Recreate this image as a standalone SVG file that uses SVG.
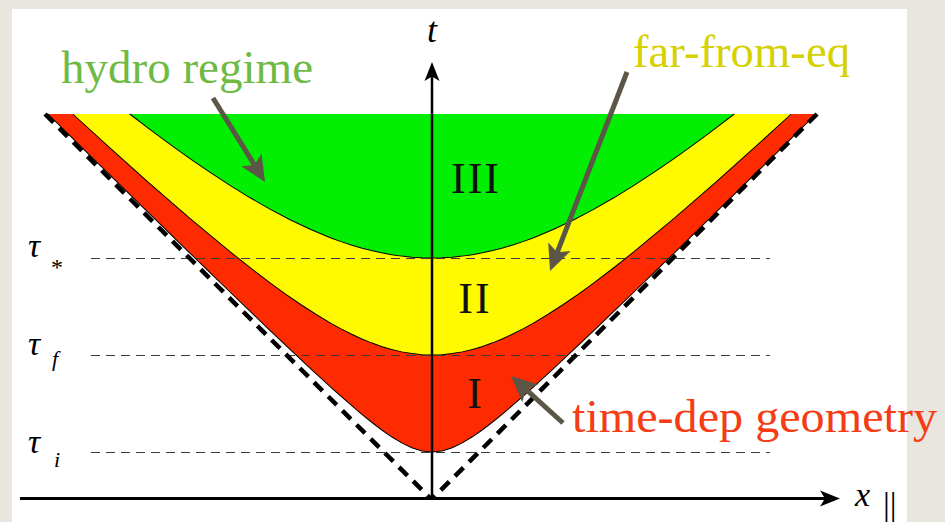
<svg xmlns="http://www.w3.org/2000/svg" xmlns:xlink="http://www.w3.org/1999/xlink" width="945" height="522" viewBox="0 0 945 522">
<style>
.lab{font-family:"Liberation Serif","DejaVu Serif",serif;font-size:46px}
.math{font-family:"Liberation Serif","DejaVu Serif",serif;font-style:italic;fill:#000}
.rom{font-family:"Liberation Serif","DejaVu Serif",serif;font-size:44px;fill:#111;text-anchor:middle}
.hyp{stroke:#000;stroke-width:1;stroke-linejoin:round}
.hdash{fill:none;stroke:#3a3a3a;stroke-width:1.2;stroke-dasharray:9 6}
.cone{fill:none;stroke:#000;stroke-width:4.5;stroke-dasharray:12 8}
.ptr{fill:none;stroke:#5b5646;stroke-width:5;marker-end:url(#ah)}
</style>
<defs>
<marker id="ah" markerUnits="userSpaceOnUse" viewBox="-30 -14 32 28" markerWidth="32" markerHeight="28" refX="-16" refY="0" orient="auto">
<path d="M0,0 L-26,-12 L-20,0 L-26,12 Z" fill="#5b5646"/>
</marker>
</defs>
<rect width="945" height="522" fill="#e8e6de"/>
<rect x="12" y="9" width="895" height="513" fill="#ffffff"/>

<g id="regions" transform="translate(432,497) scale(1.01,1)">
<path id="region-I" class="hyp" fill="#ff2b00" d="M-380.3,-383 L-360,-362.8 L-340,-342.97 L-320,-323.15 L-300,-303.36 L-280,-283.59 L-260,-263.87 L-240,-244.18 L-220,-224.56 L-200,-205 L-180,-185.54 L-160,-166.21 L-140,-147.05 L-120,-128.16 L-100,-109.66 L-90,-100.62 L-80,-91.79 L-70,-83.22 L-60,-75 L-50,-67.27 L-40,-60.21 L-30,-54.08 L-20,-49.24 L-10,-46.1 L0,-45 L10,-46.1 L20,-49.24 L30,-54.08 L40,-60.21 L50,-67.27 L60,-75 L70,-83.22 L80,-91.79 L90,-100.62 L100,-109.66 L120,-128.16 L140,-147.05 L160,-166.21 L180,-185.54 L200,-205 L220,-224.56 L240,-244.18 L260,-263.87 L280,-283.59 L300,-303.36 L320,-323.15 L340,-342.97 L360,-362.8 L380.3,-383"/>
<path id="region-II" class="hyp" fill="#fffa00" d="M-355.7,-383 L-320,-350.09 L-280,-313.95 L-240,-278.86 L-200,-245.28 L-180,-229.27 L-160,-213.93 L-145,-202.95 L-130,-192.52 L-115,-182.73 L-100,-173.68 L-90,-168.12 L-80,-162.98 L-70,-158.32 L-60,-154.16 L-50,-150.55 L-40,-147.53 L-30,-145.13 L-20,-143.4 L-10,-142.35 L0,-142 L10,-142.35 L20,-143.4 L30,-145.13 L40,-147.53 L50,-150.55 L60,-154.16 L70,-158.32 L80,-162.98 L90,-168.12 L100,-173.68 L115,-182.73 L130,-192.52 L145,-202.95 L160,-213.93 L180,-229.27 L200,-245.28 L240,-278.86 L280,-313.95 L320,-350.09 L355.7,-383"/>
<path id="region-III" class="hyp" fill="#02ee02" d="M-299.3,-383 L-280,-368.13 L-260,-353.16 L-240,-338.71 L-220,-324.84 L-200,-311.64 L-180,-299.2 L-160,-287.61 L-140,-276.98 L-120,-267.44 L-100,-259.08 L-90,-255.38 L-80,-252.03 L-70,-249.04 L-60,-246.42 L-50,-244.17 L-40,-242.32 L-30,-240.88 L-20,-239.84 L-10,-239.21 L0,-239 L10,-239.21 L20,-239.84 L30,-240.88 L40,-242.32 L50,-244.17 L60,-246.42 L70,-249.04 L80,-252.03 L90,-255.38 L100,-259.08 L120,-267.44 L140,-276.98 L160,-287.61 L180,-299.2 L200,-311.64 L220,-324.84 L240,-338.71 L260,-353.16 L280,-368.13 L299.3,-383"/>
</g>

<g id="levels">
<line class="hdash" x1="91" y1="258.5" x2="770" y2="258.5"/>
<line class="hdash" x1="91" y1="355.5" x2="770" y2="355.5"/>
<line class="hdash" x1="91" y1="452.5" x2="770" y2="452.5"/>
</g>

<g id="lightcone">
<line class="cone" x1="45" y1="114" x2="430" y2="498"/>
<line class="cone" x1="817" y1="114" x2="433" y2="498"/>
</g>

<g id="axes">
<line x1="432" y1="498" x2="432" y2="74" stroke="#000" stroke-width="2.5"/>
<path d="M432,62 L439.5,81 L432,76.5 L424.5,81 Z" fill="#000"/>
<line x1="20" y1="498.5" x2="828" y2="498.5" stroke="#000" stroke-width="3"/>
<path d="M840,498.5 L820,506.5 L825,498.5 L820,490.5 Z" fill="#000"/>
<text class="math" x="432" y="42" font-size="36" text-anchor="middle">t</text>
<text class="math" x="855" y="506" font-size="34">x</text>
<text x="883" y="516" font-size="34" fill="#000" font-family="Liberation Serif, DejaVu Serif, serif">||</text>
</g>

<g id="tau-labels">
<text class="math" x="28" y="257" font-size="34">τ</text>
<text x="51" y="275" font-size="24" fill="#000" font-family="Liberation Serif, DejaVu Serif, serif">*</text>
<text class="math" x="28" y="355" font-size="34">τ</text>
<text class="math" x="52" y="366" font-size="22">f</text>
<text class="math" x="28" y="453" font-size="34">τ</text>
<text class="math" x="54" y="467" font-size="22">i</text>
</g>

<g id="region-labels">
<text class="rom" x="476" y="193" letter-spacing="2">III</text>
<text class="rom" x="475" y="313" letter-spacing="2">II</text>
<text class="rom" x="474.5" y="408">I</text>
</g>

<g id="annotations">
<g id="hydro">
<text class="lab" x="61" y="83" fill="#6fba45" textLength="252" lengthAdjust="spacingAndGlyphs">hydro regime</text>
</g>
<g id="farfromeq">
<text class="lab" x="633" y="67" fill="#d6d100" textLength="217" lengthAdjust="spacingAndGlyphs">far-from-eq</text>
</g>
<g id="timedep">
<text class="lab" x="572" y="432" fill="#f63c14" textLength="365" lengthAdjust="spacingAndGlyphs">time-dep geometry</text>
</g>
</g>

<g id="connectors">
<line class="ptr" x1="213" y1="98" x2="256.6" y2="168.4"/>
<line class="ptr" x1="627" y1="72" x2="555.8" y2="256.1"/>
<line class="ptr" x1="563" y1="423" x2="522.9" y2="386.7"/>
</g>
</svg>
